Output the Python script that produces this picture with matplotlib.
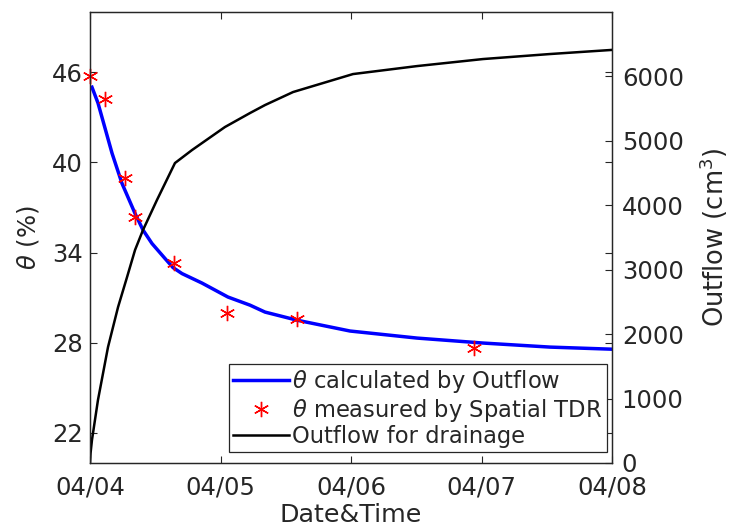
import matplotlib

matplotlib.use("Agg")

import matplotlib.pyplot as plt
import pandas as pd

START = pd.Timestamp("2019-04-04")

# theta calculated by outflow (days since 04/04, %)
calc_days = [0.015, 0.061, 0.169, 0.245, 0.345, 0.406, 0.475, 0.575, 0.636,
             0.705, 0.858, 1.057, 1.226, 1.341, 1.586, 1.992, 2.506, 3.011,
             3.525, 4.0]
calc_theta = [45.0, 43.95, 40.6, 38.6, 36.6, 35.5, 34.6, 33.6, 33.0,
              32.6, 31.97, 31.04, 30.5, 30.04, 29.5, 28.78, 28.31, 27.98,
              27.71, 27.57]

# theta measured by spatial TDR
tdr_days = [0.0, 0.115, 0.268, 0.345, 0.644, 1.05, 1.586, 2.943]
tdr_theta = [45.74, 44.2, 38.96, 36.36, 33.3, 29.97, 29.57, 27.64]

# cumulative outflow (cm3)
out_days = [0.0, 0.004, 0.015, 0.061, 0.138, 0.215, 0.284, 0.345, 0.406,
            0.513, 0.651, 0.782, 1.034, 1.226, 1.341, 1.556, 2.015, 2.506,
            3.011, 3.525, 4.0]
outflow = [0, 150, 357, 978, 1800, 2421, 2887, 3306, 3616,
           4082, 4656, 4858, 5215, 5432, 5556, 5758, 6037, 6161,
           6270, 6348, 6412]

date_ticks = ["04/04", "04/05", "04/06", "04/07", "04/08"]
theta_ticks = [22, 28, 34, 40, 46]
outflow_ticks = [0, 1000, 2000, 3000, 4000, 5000, 6000]


def to_dates(days):
    return START + pd.to_timedelta(days, unit="D")


TEXT = "#262626"
plt.rcParams["font.family"] = ["DejaVu Sans"]
plt.rcParams["mathtext.fontset"] = "dejavusans"

fig = plt.figure(figsize=(7.3, 5.32), dpi=100)
ax = fig.add_axes([0.1233, 0.1297, 0.7151, 0.8477])
ax2 = ax.twinx()

line_calc, = ax.plot(to_dates(calc_days), calc_theta, color="#0000ff",
                     linewidth=2.5, label=r"$\theta$ calculated by Outflow")
pts, = ax.plot(to_dates(tdr_days), tdr_theta, linestyle="none",
               marker=(6, 2, 0), markersize=11, markeredgewidth=1.0,
               color="#ff0000", label=r"$\theta$ measured by Spatial TDR",
               zorder=5, clip_on=False)
line_out, = ax2.plot(to_dates(out_days), outflow, color="black",
                     linewidth=1.8, label="Outflow for drainage")

ax.set_xlim(START, START + pd.Timedelta(days=4))
ax.set_ylim(20, 50)
ax2.set_ylim(0, 7000)

ax.set_xticks(to_dates(range(len(date_ticks))))
ax.set_xticklabels(date_ticks)
ax.set_yticks(theta_ticks)
ax2.set_yticks(outflow_ticks)

for a in (ax, ax2):
    for spine in a.spines.values():
        spine.set_color(TEXT)
        spine.set_linewidth(0.9)
    a.tick_params(colors=TEXT, labelsize=17.5, direction="in", length=5,
                  width=0.8)
ax.tick_params(top=True, right=True, labelright=False)
ax.tick_params(axis="x", pad=9)
ax.tick_params(axis="y", pad=5)
ax2.tick_params(axis="y", pad=7)

ax.set_xlabel("Date&Time", fontsize=18.3, color=TEXT, labelpad=2.5)
ax.set_ylabel(r"$\theta$ (%)", fontsize=17.5, color=TEXT, labelpad=8)
ax2.set_ylabel(r"Outflow (cm$^3$)", fontsize=18.5, color=TEXT, labelpad=10)

leg = ax2.legend(handles=[line_calc, pts, line_out], loc="lower right",
                 bbox_to_anchor=(0.99, 0.024), borderaxespad=0,
                 fontsize=16.3, handlelength=2.45, handletextpad=0.15,
                 borderpad=0.2, labelspacing=0.05,
                 fancybox=False, framealpha=1, edgecolor=TEXT)
leg.get_frame().set_linewidth(0.9)
for txt in leg.get_texts():
    txt.set_color(TEXT)

fig.savefig("out.png", dpi=100)
